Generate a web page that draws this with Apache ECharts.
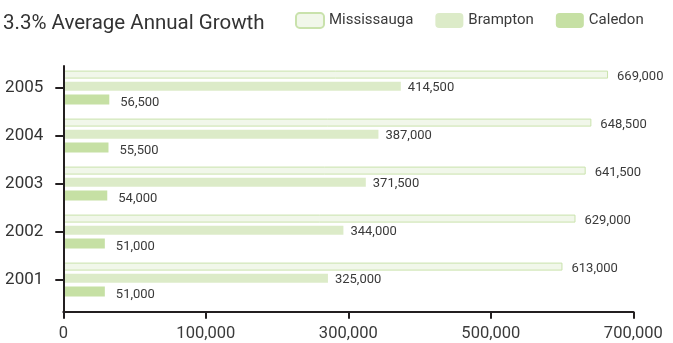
<!DOCTYPE html>
<html>
<head>
<meta charset="utf-8">
<script src="https://cdn.jsdelivr.net/npm/echarts@6/dist/echarts.min.js"></script>
<style>
  html, body { margin: 0; padding: 0; background: #ffffff; }
  #chart { width: 673px; height: 343px; }
</style>
</head>
<body>
<div id="chart"></div>
<script>
// Population by municipality, 2001-2005
const years = ['2001', '2002', '2003', '2004', '2005'];
const mississauga = [613000, 629000, 641500, 648500, 669000];
const brampton = [325000, 344000, 371500, 387000, 414500];
const caledon = [51000, 51000, 54000, 55500, 56500];
const xTickLabels = ['0', '100,000', '300,000', '500,000', '700,000'];

const FONT = 'Roboto, "Liberation Sans", sans-serif';
const INK = '#231f20';
const TEXT = '#3a3a3a';
const X_MAX = 700000;
const X_STEP = 175000;

const fmt = v => v.toLocaleString('en-US');

function valueLabel(dist, dy) {
  return {
    show: true,
    position: 'right',
    distance: dist,
    offset: [0, dy],
    color: TEXT,
    fontFamily: FONT,
    fontSize: 13,
    formatter: p => fmt(p.value)
  };
}

const chart = echarts.init(document.getElementById('chart'), null, { renderer: 'canvas' });

chart.setOption({
  backgroundColor: '#ffffff',
  animation: false,
  title: {
    text: '3.3% Average Annual Growth',
    left: -2,
    top: 8,
    textStyle: { color: '#333333', fontFamily: FONT, fontSize: 20.5, fontWeight: 'normal' }
  },
  legend: {
    left: 290,
    top: 7,
    width: 383,
    itemWidth: 28,
    itemHeight: 15,
    itemGap: 22,
    textStyle: { color: TEXT, fontFamily: FONT, fontSize: 15 },
    data: ['Mississauga', 'Brampton', 'Caledon']
  },
  grid: [
    // bars and year labels
    { left: 63.3, right: 39.7, top: 63.5, bottom: 39.5, outerBoundsMode: 'none' },
    // axis frame
    { left: 63.3, right: 39.7, top: 66, bottom: 31.3, outerBoundsMode: 'none' }
  ],
  xAxis: [
    { gridIndex: 0, type: 'value', min: 0, max: X_MAX, interval: X_STEP, show: false },
    {
      gridIndex: 1, type: 'value', min: 0, max: X_MAX, interval: X_STEP, z: 5,
      axisLine: { show: true, lineStyle: { color: INK, width: 2 } },
      axisTick: { show: true, length: 7, lineStyle: { color: INK, width: 2 } },
      splitLine: { show: false },
      axisLabel: {
        margin: 14,
        color: TEXT,
        fontFamily: FONT,
        fontSize: 16.5,
        formatter: v => xTickLabels[Math.round(v / X_STEP)]
      }
    }
  ],
  yAxis: [
    {
      gridIndex: 0, type: 'category', data: years, z: 5,
      axisLine: { show: false },
      axisTick: { show: true, alignWithLabel: true, length: 8, lineStyle: { color: INK, width: 2 } },
      axisLabel: { margin: 20, color: '#333333', fontFamily: FONT, fontSize: 17 }
    },
    {
      gridIndex: 1, type: 'value', min: 0, max: 1, z: 5,
      axisLine: { show: true, lineStyle: { color: INK, width: 2 } },
      axisTick: { show: false },
      axisLabel: { show: false },
      splitLine: { show: false }
    }
  ],
  series: [
    {
      name: 'Mississauga', type: 'bar', xAxisIndex: 0, yAxisIndex: 0,
      data: mississauga, barWidth: 8, barGap: '40%', barCategoryGap: '30%',
      itemStyle: { color: '#f1f7ea', borderColor: '#c9e2ac', borderWidth: 1 },
      label: valueLabel(9, 2)
    },
    {
      name: 'Brampton', type: 'bar', xAxisIndex: 0, yAxisIndex: 0,
      data: brampton, barWidth: 9,
      itemStyle: { color: '#dcebc8' },
      label: valueLabel(7, 1)
    },
    {
      name: 'Caledon', type: 'bar', xAxisIndex: 0, yAxisIndex: 0,
      data: caledon, barWidth: 10,
      itemStyle: { color: '#c6e0a4' },
      label: valueLabel(11, 3)
    }
  ]
});
</script>
</body>
</html>
